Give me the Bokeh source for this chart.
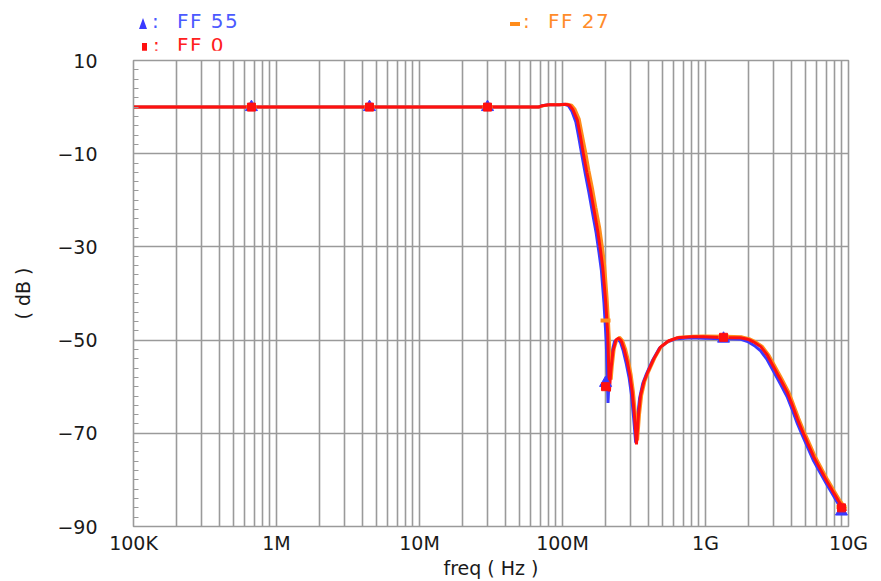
from bokeh.plotting import figure
from bokeh.models import FixedTicker, Range1d, Div
from bokeh.layouts import column
from bokeh.embed import file_html
from bokeh.resources import INLINE

# ---------------- data ----------------
freq_ff0 = [1.0e5, 6.8e7, 7.2e7, 8.0e7, 9.5e7, 1.05e8, 1.12e8, 1.18e8, 1.27e8, 1.33e8,
            1.40e8, 1.48e8, 1.57e8, 1.66e8, 1.76e8, 1.84e8, 1.91e8, 2.00e8, 2.07e8, 2.10e8,
            2.13e8, 2.17e8, 2.25e8, 2.36e8, 2.47e8, 2.58e8, 2.70e8, 2.83e8, 2.96e8, 3.07e8,
            3.18e8, 3.29e8, 3.40e8, 3.51e8, 3.70e8, 3.93e8, 4.35e8, 4.84e8, 5.5e8, 6.37e8,
            8.0e8, 9.68e8, 1.38e9, 1.75e9, 1.97e9, 2.20e9, 2.43e9, 2.70e9, 2.99e9, 3.35e9,
            3.74e9, 4.05e9, 4.40e9, 4.75e9, 5.16e9, 5.70e9, 6.37e9, 7.05e9, 7.85e9, 8.50e9,
            9.23e9, 9.6e9]
db_ff0 = [0.0, 0.0, 0.3, 0.5, 0.5, 0.6, 0.4, -0.5, -2.8, -6.0,
          -10.0, -14.0, -17.8, -22.0, -26.4, -30.5, -34.3, -41.4, -48.5, -55.0,
          -61.0, -57.0, -52.5, -50.0, -49.6, -50.2, -52.0, -54.5, -57.5, -61.0,
          -66.0, -72.4, -66.0, -62.0, -59.0, -57.0, -54.0, -51.5, -50.2, -49.5,
          -49.3, -49.3, -49.5, -49.5, -49.8, -50.5, -51.4, -53.2, -55.7, -58.5,
          -61.3, -64.0, -67.0, -69.5, -72.0, -75.0, -77.8, -80.3, -82.7, -84.5,
          -86.0, -86.7]

freq_ff55 = [1.0e5, 6.8e7, 7.2e7, 8.0e7, 9.5e7, 1.03e8, 1.10e8, 1.16e8, 1.24e8, 1.30e8,
             1.37e8, 1.45e8, 1.53e8, 1.62e8, 1.72e8, 1.80e8, 1.87e8, 1.95e8, 2.02e8, 2.06e8,
             2.08e8, 2.12e8, 2.20e8, 2.31e8, 2.43e8, 2.54e8, 2.66e8, 2.79e8, 2.92e8, 3.03e8,
             3.14e8, 3.25e8, 3.35e8, 3.46e8, 3.64e8, 3.86e8, 4.27e8, 4.75e8, 5.4e8, 6.25e8,
             8.0e8, 9.68e8, 1.38e9, 1.75e9, 1.97e9, 2.20e9, 2.43e9, 2.70e9, 2.99e9, 3.35e9,
             3.74e9, 4.05e9, 4.40e9, 4.75e9, 5.16e9, 5.70e9, 6.37e9, 7.05e9, 7.85e9, 8.50e9,
             9.23e9, 9.5e9]
db_ff55 = [0.0, 0.0, 0.3, 0.5, 0.5, 0.6, 0.3, -0.8, -3.2, -6.5,
           -10.5, -14.6, -18.3, -22.6, -27.0, -31.2, -35.0, -42.0, -50.0, -58.0,
           -63.5, -58.0, -53.0, -50.3, -49.9, -50.4, -52.3, -55.0, -58.0, -61.5,
           -66.5, -72.0, -66.5, -62.5, -59.3, -57.3, -54.3, -51.8, -50.4, -49.7,
           -49.5, -49.6, -49.7, -49.8, -50.3, -51.2, -52.3, -54.2, -56.7, -59.5,
           -62.3, -65.0, -68.0, -70.4, -72.9, -75.9, -78.6, -81.0, -83.4, -85.2,
           -86.8, -87.3]

freq_ff27 = [1.0e5, 6.8e7, 7.3e7, 8.2e7, 9.8e7, 1.08e8, 1.16e8, 1.22e8, 1.31e8, 1.37e8,
             1.45e8, 1.53e8, 1.62e8, 1.71e8, 1.82e8, 1.90e8, 1.97e8, 2.05e8, 2.10e8, 2.15e8,
             2.19e8, 2.23e8, 2.30e8, 2.41e8, 2.51e8, 2.63e8, 2.76e8, 2.89e8, 3.02e8, 3.13e8,
             3.24e8, 3.35e8, 3.46e8, 3.58e8, 3.77e8, 4.00e8, 4.43e8, 4.93e8, 5.6e8, 6.5e8,
             8.0e8, 9.68e8, 1.38e9, 1.80e9, 2.02e9, 2.25e9, 2.49e9, 2.76e9, 3.05e9, 3.42e9,
             3.82e9, 4.13e9, 4.49e9, 4.85e9, 5.27e9, 5.82e9, 6.50e9, 7.20e9, 8.00e9, 8.68e9,
             9.40e9, 9.6e9]
db_ff27 = [0.0, 0.0, 0.3, 0.5, 0.5, 0.6, 0.4, -0.4, -2.6, -5.7,
           -9.6, -13.6, -17.4, -21.5, -25.9, -30.0, -33.8, -41.0, -46.5, -53.0,
           -58.5, -55.5, -51.8, -49.8, -49.4, -50.1, -51.9, -54.4, -57.4, -61.0,
           -66.0, -71.5, -65.8, -61.8, -58.8, -56.8, -53.8, -51.3, -50.1, -49.4,
           -49.2, -49.1, -49.2, -49.3, -49.7, -50.4, -51.3, -53.1, -55.5, -58.3,
           -61.1, -63.8, -66.8, -69.3, -71.8, -74.8, -77.6, -80.1, -82.5, -84.3,
           -85.8, -86.2]

marker_freq = [6.68e5, 4.47e6, 2.99e7, 2.0e8, 1.337e9, 8.93e9]
marker_ff55 = [0.0, 0.0, 0.0, -59.2, -49.7, -86.8]
marker_ff27 = [0.0, 0.0, 0.0, -45.8, -49.2, -85.8]
marker_ff0 = [0.0, 0.0, 0.0, -60.0, -49.4, -86.0]

x_ticks = [1e5, 1e6, 1e7, 1e8, 1e9, 1e10]
x_tick_labels = ["100K", "1M", "10M", "100M", "1G", "10G"]
x_minor_ticks = [m * 10 ** d for d in range(5, 10) for m in range(2, 10)]
y_ticks = [10, -10, -30, -50, -70, -90]
y_tick_labels = ["10", "\u221210", "\u221230", "\u221250", "\u221270", "\u221290"]
y_minor_ticks = list(range(-90, 11, 2))

series_names = ["FF 55", "FF 27", "FF 0"]
series_colors = ["#3a3aff", "#ff8c1a", "#ff1010"]
legend_text_colors = ["#4b5aff", "#ff8c2a", "#ff2020"]

GRID = "#9a9a9a"
FONT = "DejaVu Sans"
TEXT = "#1a1a1a"
LEGEND_H = 50

p = figure(width=881, height=581 - LEGEND_H, x_axis_type="log",
           x_range=Range1d(1e5, 1e10), y_range=Range1d(-90, 10),
           output_backend="svg", toolbar_location=None,
           min_border_left=133, min_border_right=33,
           min_border_top=10, min_border_bottom=54)

p.background_fill_color = "white"
p.border_fill_color = "white"
p.outline_line_color = GRID
p.outline_line_width = 1.6

# x axis
p.xaxis.ticker = FixedTicker(ticks=x_ticks, minor_ticks=x_minor_ticks)
p.xaxis.major_label_overrides = {t: l for t, l in zip(x_ticks, x_tick_labels)}
p.xaxis.axis_label = "freq ( Hz )"
p.xaxis.axis_line_color = GRID
p.xaxis.major_tick_out = 0
p.xaxis.major_tick_in = 0
p.xaxis.minor_tick_out = 0
p.xaxis.minor_tick_in = 0
p.xaxis.major_label_standoff = 5
p.xaxis.axis_label_standoff = 0
p.xaxis.major_label_text_font = FONT
p.xaxis.major_label_text_font_size = "19px"
p.xaxis.major_label_text_color = TEXT
p.xaxis.axis_label_text_font = FONT
p.xaxis.axis_label_text_font_size = "19px"
p.xaxis.axis_label_text_font_style = "normal"
p.xaxis.axis_label_text_color = TEXT

# y axis
p.yaxis.ticker = FixedTicker(ticks=y_ticks, minor_ticks=y_minor_ticks)
p.yaxis.major_label_overrides = {t: l for t, l in zip(y_ticks, y_tick_labels)}
p.yaxis.axis_label = "( dB )"
p.yaxis.axis_line_color = GRID
p.yaxis.major_tick_out = 0
p.yaxis.major_tick_in = 5
p.yaxis.minor_tick_out = 0
p.yaxis.minor_tick_in = 5
p.yaxis.major_tick_line_color = GRID
p.yaxis.minor_tick_line_color = GRID
p.yaxis.major_label_standoff = 36
p.yaxis.axis_label_standoff = 20
p.yaxis.major_label_text_font = FONT
p.yaxis.major_label_text_font_size = "19px"
p.yaxis.major_label_text_color = TEXT
p.yaxis.axis_label_text_font = FONT
p.yaxis.axis_label_text_font_size = "19px"
p.yaxis.axis_label_text_font_style = "normal"
p.yaxis.axis_label_text_color = TEXT

# grids
p.xgrid.grid_line_color = GRID
p.xgrid.grid_line_width = 1.6
p.xgrid.minor_grid_line_color = GRID
p.xgrid.minor_grid_line_width = 1.6
p.ygrid.grid_line_color = GRID
p.ygrid.grid_line_width = 1.6

# curves
p.line(freq_ff55, db_ff55, line_color=series_colors[0], line_width=3)
p.line(freq_ff27, db_ff27, line_color=series_colors[1], line_width=3)
p.line(freq_ff0, db_ff0, line_color=series_colors[2], line_width=3)

# markers
p.scatter(marker_freq, marker_ff55, marker="triangle", size=12,
          fill_color=series_colors[0], line_color=series_colors[0])
p.scatter(marker_freq, marker_ff27, marker="dash", size=10, angle=0,
          line_color=series_colors[1], line_width=4)
p.scatter(marker_freq, marker_ff0, marker="square", size=8,
          fill_color=series_colors[2], line_color=series_colors[2])

# legend block above the plot
sym_html = [
    '<span style="position:absolute;left:139px;top:18px;width:0;height:0;'
    'border-left:4.5px solid transparent;border-right:4.5px solid transparent;'
    'border-bottom:11px solid %s;"></span>' % series_colors[0],
    '<span style="position:absolute;left:510px;top:22px;width:10px;height:4px;'
    'background:%s;"></span>' % series_colors[1],
    '<span style="position:absolute;left:142px;top:43px;width:5px;height:9px;'
    'background:%s;"></span>' % series_colors[2],
]
colon_left = [152, 523, 153]
text_left = [177, 548, 177]
text_top = [11, 11, 35]
txt_style = ("position:absolute;font-family:'DejaVu Sans';font-size:20px;"
             "line-height:20px;letter-spacing:1.5px;white-space:nowrap;")
parts = ['<div style="position:relative;width:881px;height:%dpx;background:white;margin:0;padding:0;">' % LEGEND_H]
for i in range(3):
    parts.append(sym_html[i])
    parts.append('<span style="%sleft:%dpx;top:%dpx;color:%s;">:</span>'
                 % (txt_style, colon_left[i], text_top[i], legend_text_colors[i]))
    parts.append('<span style="%sleft:%dpx;top:%dpx;color:%s;">%s</span>'
                 % (txt_style, text_left[i], text_top[i], legend_text_colors[i], series_names[i]))
parts.append('</div>')

legend_div = Div(text="".join(parts), width=881, height=LEGEND_H, margin=0)

layout = column(legend_div, p, spacing=0)
open("out.html", "w").write(file_html(layout, INLINE))
